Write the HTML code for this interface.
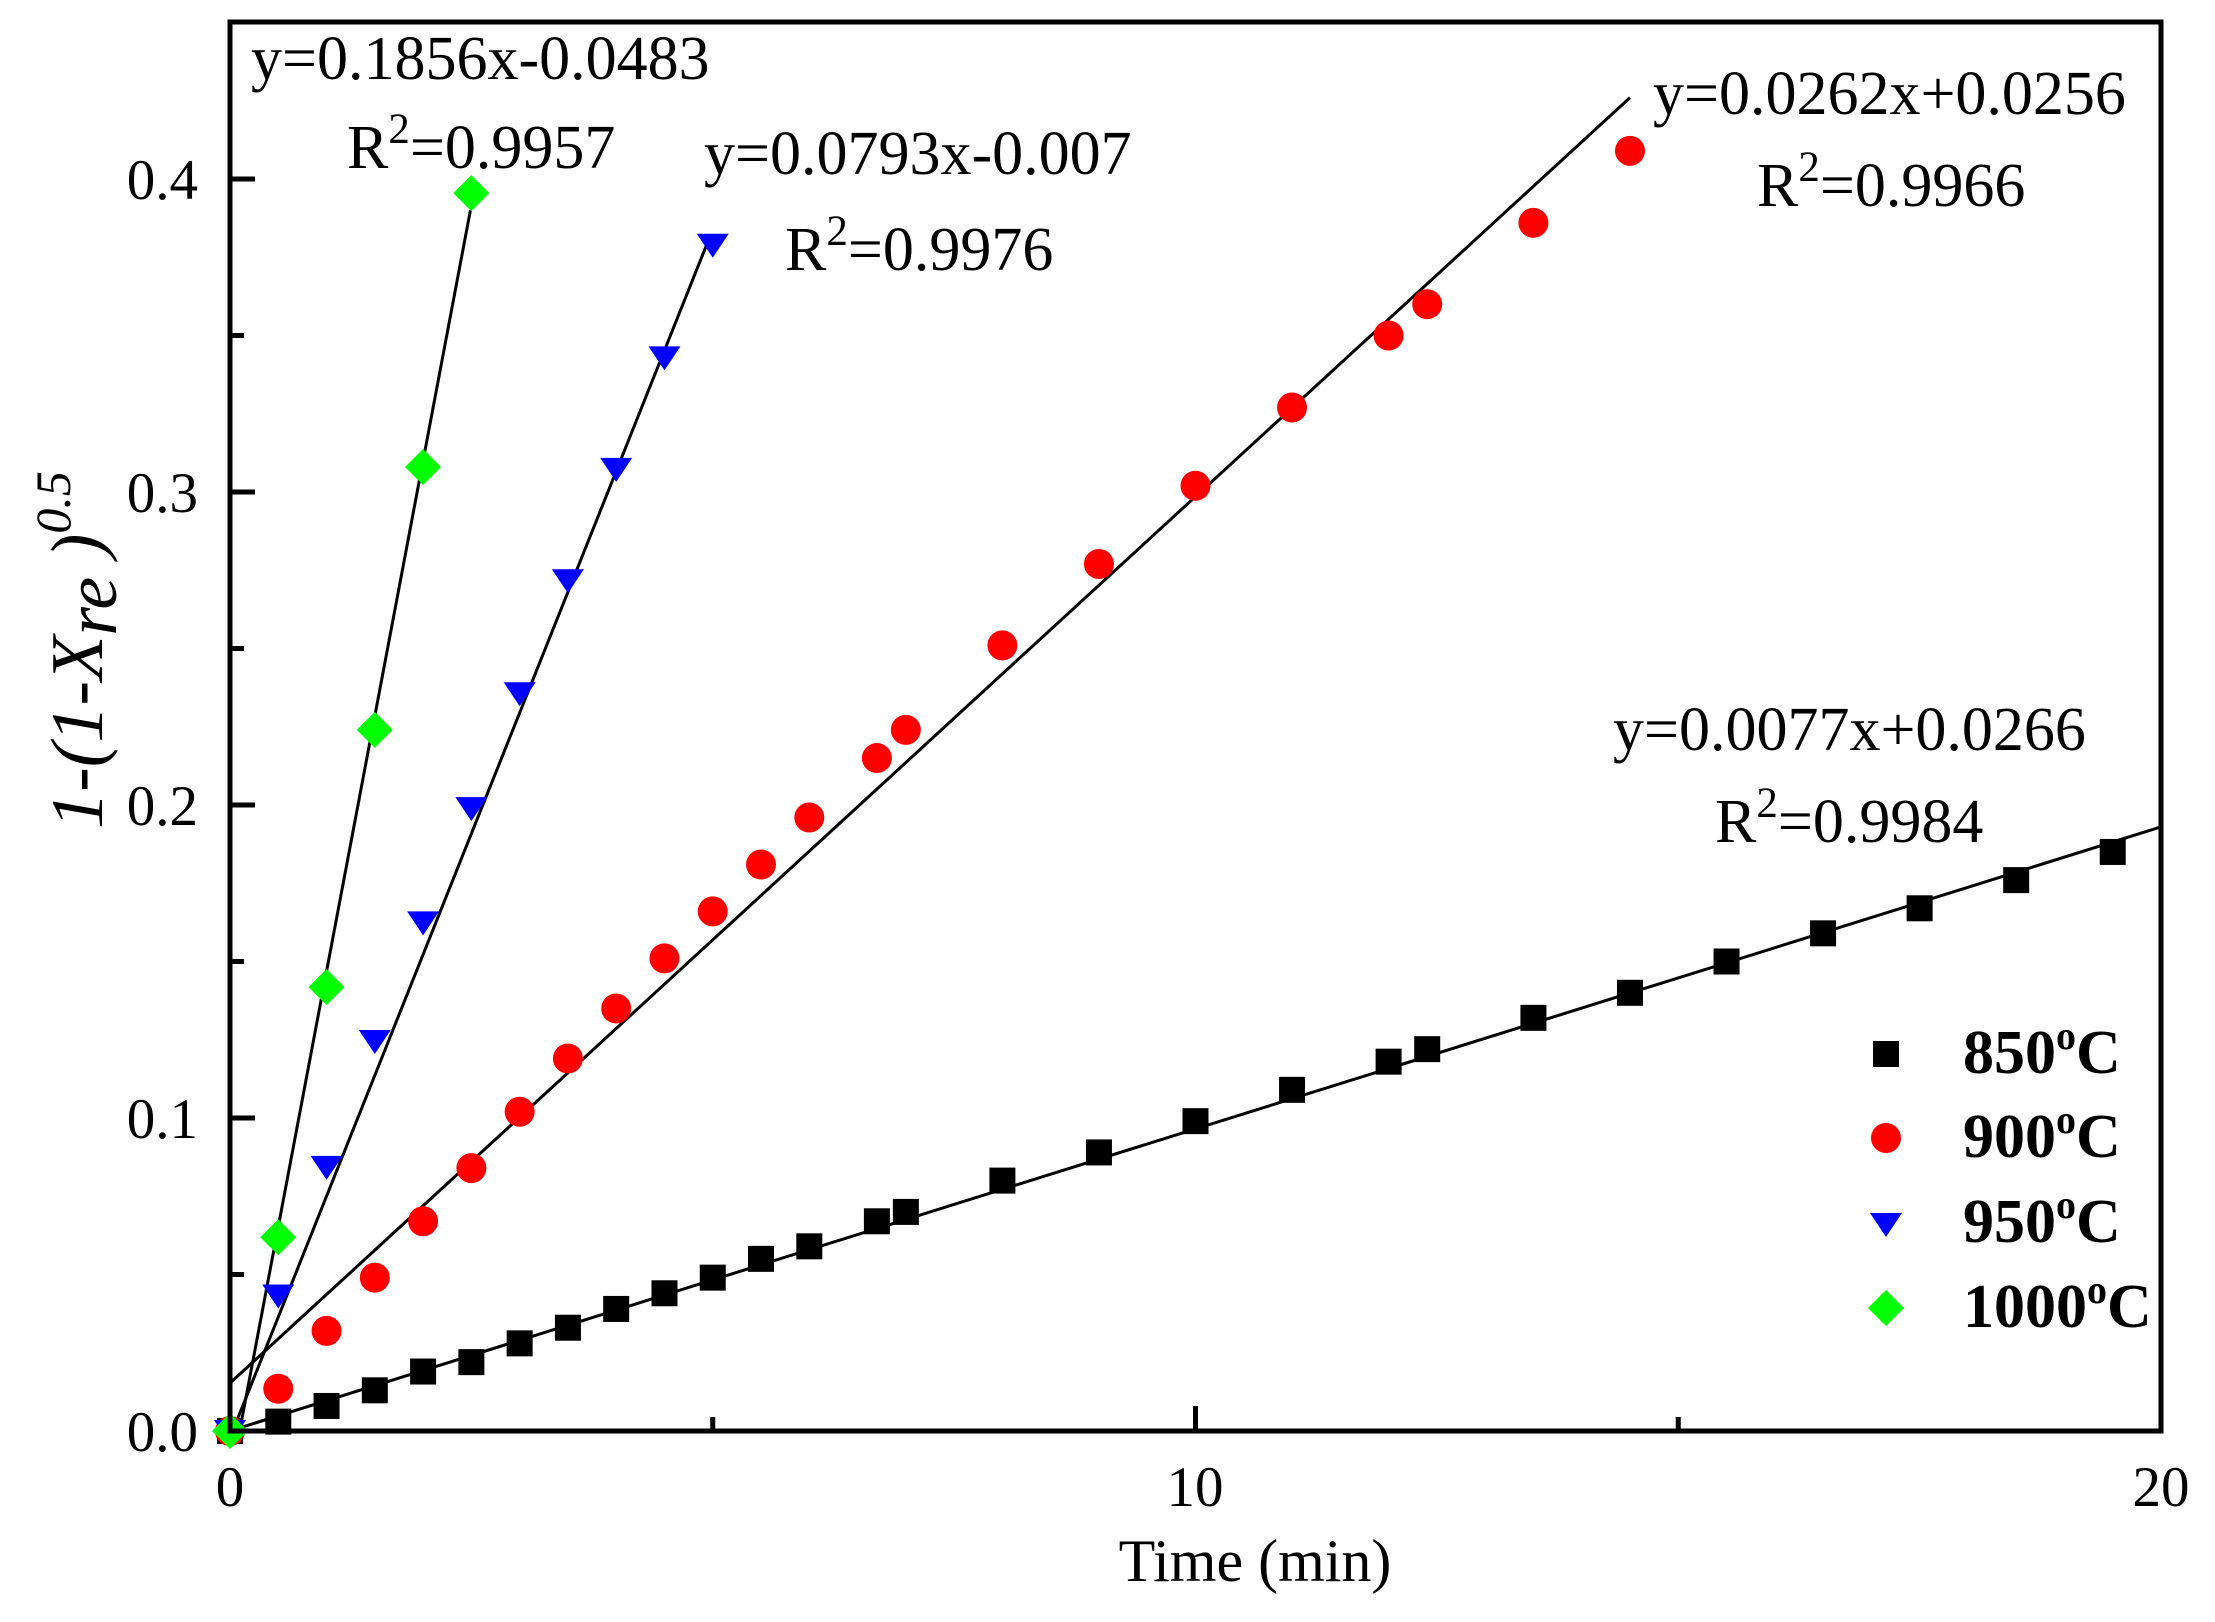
<!DOCTYPE html>
<html><head><meta charset="utf-8"><style>
html,body{margin:0;padding:0;background:#fff}
svg{display:block}
text{font-family:"Liberation Serif",serif;fill:#000}
</style></head><body>
<svg id="s" width="2215" height="1622" xmlns="http://www.w3.org/2000/svg">
<rect width="2215" height="1622" fill="#fff"/>
<g id="lines"></g>
<g id="pts"></g>
<rect x="230" y="22" width="1931" height="1409" fill="none" stroke="#000" stroke-width="5"/>
<g id="ticks" stroke="#000" stroke-width="5"></g>
<g font-size="57">
<text x="198" y="1451" text-anchor="end">0.0</text>
<text x="198" y="1138" text-anchor="end">0.1</text>
<text x="198" y="825" text-anchor="end">0.2</text>
<text x="198" y="512" text-anchor="end">0.3</text>
<text x="198" y="199" text-anchor="end">0.4</text>
<text x="230" y="1506" text-anchor="middle">0</text>
<text x="1195" y="1506" text-anchor="middle">10</text>
<text x="2161" y="1506" text-anchor="middle">20</text>
</g>
<text x="1255" y="1581" font-size="60" text-anchor="middle">Time (min)</text>
<text transform="translate(102,650) rotate(-90)" font-size="74" font-style="italic" text-anchor="middle">1-(1-X<tspan dy="14">re</tspan><tspan dy="-14"> )</tspan><tspan dy="-32" font-size="50">0.5</tspan></text>
<g font-size="62">
<text x="251" y="79">y=0.1856x-0.0483</text>
<text x="347" y="168">R<tspan dy="-25" font-size="43">2</tspan><tspan dy="25">=0.9957</tspan></text>
<text x="704" y="174">y=0.0793x-0.007</text>
<text x="785" y="270">R<tspan dy="-25" font-size="43">2</tspan><tspan dy="25">=0.9976</tspan></text>
<text x="1653" y="114">y=0.0262x+0.0256</text>
<text x="1757" y="206">R<tspan dy="-25" font-size="43">2</tspan><tspan dy="25">=0.9966</tspan></text>
<text x="1613" y="750">y=0.0077x+0.0266</text>
<text x="1715" y="842">R<tspan dy="-25" font-size="43">2</tspan><tspan dy="25">=0.9984</tspan></text>
</g>
<g font-size="62" font-weight="bold">
<rect x="1873" y="1041" width="26" height="26" fill="#000"/>
<text x="1963" y="1073">850<tspan dy="-24" font-size="40">o</tspan><tspan dy="24">C</tspan></text>
<circle cx="1886" cy="1138" r="15" fill="#f00"/>
<text x="1963" y="1157">900<tspan dy="-24" font-size="40">o</tspan><tspan dy="24">C</tspan></text>
<polygon points="1870,1213 1902,1213 1886,1237" fill="#00f"/>
<text x="1963" y="1242">950<tspan dy="-24" font-size="40">o</tspan><tspan dy="24">C</tspan></text>
<polygon points="1886,1290 1904,1308 1886,1326 1868,1308" fill="#0f0"/>
<text x="1963" y="1327">1000<tspan dy="-24" font-size="40">o</tspan><tspan dy="24">C</tspan></text>
</g>
</svg>
<script>
var NS="http://www.w3.org/2000/svg";
function X(x){return 230+x*96.55}
function Y(y){return 1431-y*3130}
function el(p,t,a){var e=document.createElementNS(NS,t);for(var k in a)e.setAttribute(k,a[k]);document.getElementById(p).appendChild(e);return e}
for(var i=0;i<=8;i++){var y=Y(i*0.05),L=(i%2==0)?25:14;el('ticks','line',{x1:230,y1:y,x2:230+L,y2:y});}
[0,5,10,15,20].forEach(function(t,i){var x=X(t),L=(i%2==0)?25:14;el('ticks','line',{x1:x,y1:1431,x2:x,y2:1431-L});});
function ln(a,b,c,d){el('lines','line',{x1:X(a),y1:Y(b),x2:X(c),y2:Y(d),stroke:'#000','stroke-width':3});}
ln(0.1,0.001,20,0.193);
ln(0,0.0153,14.5,0.426);
ln(0.08,0.004,4.95,0.380);
ln(0.1,0.0,2.49,0.390);
var xs850=[0,0.5,1,1.5,2,2.5,3,3.5,4,4.5,5,5.5,6,6.7,7,8,9,10,11,12,12.4,13.5,14.5,15.5,16.5,17.5,18.5,19.5];
var ys850=[0,0.003,0.008,0.013,0.019,0.022,0.028,0.033,0.039,0.044,0.049,0.055,0.059,0.067,0.070,0.080,0.089,0.099,0.109,0.118,0.122,0.132,0.140,0.150,0.159,0.167,0.176,0.185];
var xs900=[0,0.5,1,1.5,2,2.5,3,3.5,4,4.5,5,5.5,6,6.7,7,8,9,10,11,12,12.4,13.5,14.5];
var ys900=[0,0.0135,0.032,0.049,0.067,0.084,0.102,0.119,0.135,0.151,0.166,0.181,0.196,0.215,0.224,0.251,0.277,0.302,0.327,0.350,0.360,0.386,0.409];
var xs950=[0,0.5,1,1.5,2,2.5,3,3.5,4,4.5,5];
var ys950=[0,0.0433,0.0844,0.1246,0.1625,0.199,0.2357,0.2718,0.3074,0.343,0.379];
var xs1000=[0,0.5,1,1.5,2,2.5];
var ys1000=[0,0.0619,0.1418,0.224,0.308,0.3955];
xs850.forEach(function(x,i){el('pts','rect',{x:X(x)-13,y:Y(ys850[i])-13,width:26,height:26,fill:'#000'})});
xs900.forEach(function(x,i){el('pts','circle',{cx:X(x),cy:Y(ys900[i]),r:15,fill:'#f00'})});
xs950.forEach(function(x,i){var cx=X(x),cy=Y(ys950[i]);el('pts','polygon',{points:(cx-16)+','+(cy-11)+' '+(cx+16)+','+(cy-11)+' '+cx+','+(cy+13),fill:'#00f'})});
xs1000.forEach(function(x,i){var cx=X(x),cy=Y(ys1000[i]);el('pts','polygon',{points:cx+','+(cy-18)+' '+(cx+18)+','+cy+' '+cx+','+(cy+18)+' '+(cx-18)+','+cy,fill:'#0f0'})});
</script>
</body></html>
